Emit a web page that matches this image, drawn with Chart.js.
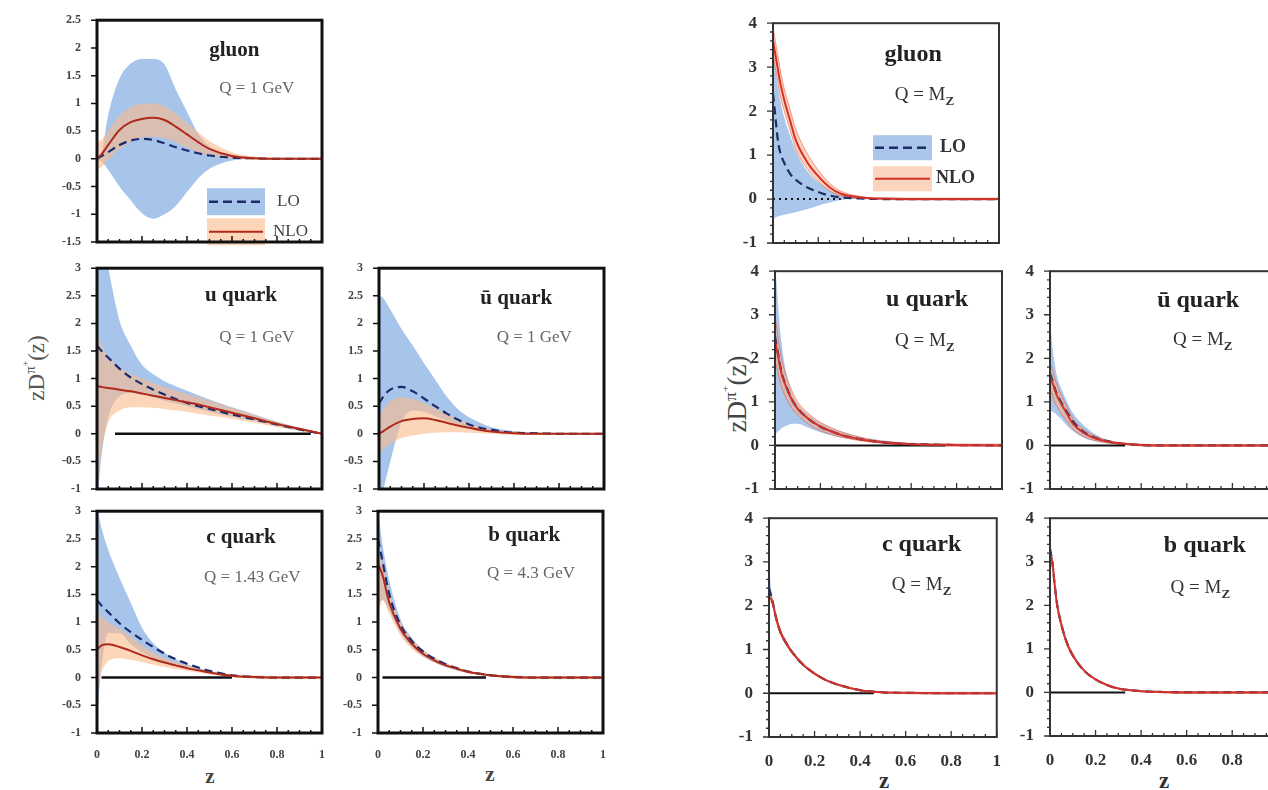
<!DOCTYPE html>
<html>
<head>
<meta charset="utf-8">
<script src="https://cdn.jsdelivr.net/npm/chart.js"></script>
<style>
  html, body { margin: 0; padding: 0; background: #fff; }
  body { position: relative; width: 1268px; height: 790px; overflow: hidden; font-family: 'Liberation Serif', serif; }
  canvas { position: absolute; }
  .lbl { position: absolute; color: #333; white-space: nowrap; transform: translate(-50%, -50%); }
  .ylab { transform: translate(-50%, -50%) rotate(-90deg); }
  sup { font-size: 0.65em; }
</style>
</head>
<body>

<div class="lbl ylab" style="left:35px;top:368px;font-size:23px;color:#555">zD<sup>π<sup>+</sup></sup>(z)</div>
<div class="lbl ylab" style="left:736px;top:394px;font-size:27px;color:#444">zD<sup>π<sup>+</sup></sup>(z)</div>
<div class="lbl" style="left:210px;top:776px;font-size:21px;font-weight:bold;color:#444">z</div>
<div class="lbl" style="left:490px;top:774px;font-size:21px;font-weight:bold;color:#444">z</div>
<div class="lbl" style="left:884px;top:781px;font-size:23px;font-weight:bold;color:#333">z</div>
<div class="lbl" style="left:1164px;top:781px;font-size:23px;font-weight:bold;color:#333">z</div>

<script>
// z grids
const zL = [0, 0.02, 0.05, 0.1, 0.15, 0.2, 0.25, 0.3, 0.35, 0.4, 0.45, 0.5, 0.6, 0.7, 0.8, 0.9, 1];
const zR = [0, 0.01, 0.02, 0.03, 0.05, 0.075, 0.1, 0.15, 0.2, 0.25, 0.3, 0.4, 0.5, 0.6, 0.8, 1];

// tick labels
const zTicks = [0, 0.2, 0.4, 0.6, 0.8, 1];
const yTicksGluonL = [-1.5, -1, -0.5, 0, 0.5, 1, 1.5, 2, 2.5];
const yTicksL = [-1, -0.5, 0, 0.5, 1, 1.5, 2, 2.5, 3];
const yTicksR = [-1, 0, 1, 2, 3, 4];

// ---- Q = 1 GeV (left block) ----
const gL_loUp  = [0, 0.1, 0.8, 1.45, 1.72, 1.8, 1.8, 1.7, 1.25, 0.85, 0.45, 0.22, 0.05, 0.01, 0, 0, 0];
const gL_loLo  = [0, -0.05, -0.2, -0.5, -0.75, -0.98, -1.08, -1.0, -0.85, -0.6, -0.35, -0.18, -0.03, 0, 0, 0, 0];
const gL_loC   = [0, 0.05, 0.12, 0.25, 0.33, 0.36, 0.34, 0.28, 0.21, 0.15, 0.1, 0.06, 0.02, 0.01, 0, 0, 0];
const gL_nloUp = [0.3, 0.35, 0.5, 0.78, 0.93, 1.0, 1.0, 0.95, 0.82, 0.65, 0.48, 0.32, 0.12, 0.04, 0.02, 0.02, 0.02];
const gL_nloLo = [-0.2, -0.15, -0.02, 0.18, 0.3, 0.38, 0.4, 0.37, 0.3, 0.2, 0.12, 0.06, 0.0, -0.02, -0.02, -0.02, -0.02];
const gL_nloC  = [0, 0.08, 0.25, 0.52, 0.66, 0.72, 0.74, 0.7, 0.58, 0.44, 0.3, 0.18, 0.05, 0.01, 0, 0, 0];

const uL_loUp  = [4.0, 3.6, 3.0, 2.05, 1.6, 1.25, 1.08, 0.95, 0.86, 0.78, 0.7, 0.62, 0.48, 0.35, 0.22, 0.11, 0];
const uL_loLo  = [-1.3, -0.4, 0.3, 0.68, 0.74, 0.72, 0.66, 0.6, 0.55, 0.5, 0.45, 0.4, 0.31, 0.23, 0.14, 0.06, 0];
const uL_loC   = [1.6, 1.5, 1.38, 1.18, 1.02, 0.9, 0.8, 0.71, 0.63, 0.56, 0.5, 0.45, 0.35, 0.26, 0.17, 0.08, 0];
const uL_nloUp = [1.8, 1.6, 1.4, 1.2, 1.08, 1.0, 0.92, 0.85, 0.78, 0.72, 0.66, 0.6, 0.47, 0.34, 0.22, 0.11, 0.02];
const uL_nloLo = [-1.0, -0.3, 0.2, 0.42, 0.48, 0.48, 0.47, 0.45, 0.42, 0.4, 0.36, 0.33, 0.27, 0.2, 0.12, 0.06, -0.02];
const uL_nloC  = [0.87, 0.85, 0.83, 0.8, 0.77, 0.73, 0.69, 0.65, 0.61, 0.57, 0.53, 0.48, 0.38, 0.28, 0.18, 0.09, 0];
const uL_zero  = [0.08, 0.95];

const ubL_loUp  = [2.5, 2.45, 2.25, 1.9, 1.6, 1.28, 0.98, 0.68, 0.45, 0.3, 0.2, 0.12, 0.05, 0.02, 0, 0, 0];
const ubL_loLo  = [-1.3, -1.0, -0.5, 0.2, 0.42, 0.4, 0.32, 0.24, 0.17, 0.12, 0.08, 0.05, 0.02, 0, 0, 0, 0];
const ubL_loC   = [0.55, 0.68, 0.8, 0.85, 0.77, 0.64, 0.5, 0.37, 0.26, 0.17, 0.11, 0.07, 0.02, 0.01, 0, 0, 0];
const ubL_nloUp = [0.3, 0.45, 0.58, 0.66, 0.63, 0.56, 0.46, 0.36, 0.27, 0.19, 0.13, 0.08, 0.04, 0.03, 0.02, 0.02, 0.02];
const ubL_nloLo = [-0.35, -0.28, -0.18, -0.08, -0.03, 0.0, 0.02, 0.03, 0.03, 0.02, 0.01, 0.0, -0.02, -0.02, -0.02, -0.02, -0.02];
const ubL_nloC  = [0.0, 0.05, 0.13, 0.23, 0.27, 0.28, 0.25, 0.2, 0.15, 0.11, 0.07, 0.04, 0.01, 0, 0, 0, 0];

const cL_loUp  = [3.1, 2.7, 2.3, 1.8, 1.35, 0.9, 0.62, 0.45, 0.33, 0.24, 0.17, 0.12, 0.05, 0.02, 0.01, 0, 0];
const cL_loLo  = [-0.7, 0.2, 0.8, 0.8, 0.6, 0.45, 0.35, 0.27, 0.2, 0.15, 0.11, 0.08, 0.03, 0.01, 0, 0, 0];
const cL_loC   = [1.4, 1.3, 1.18, 0.98, 0.82, 0.68, 0.55, 0.43, 0.33, 0.25, 0.18, 0.12, 0.04, 0.01, 0, 0, 0];
const cL_nloUp = [1.2, 1.1, 1.0, 0.88, 0.74, 0.58, 0.45, 0.35, 0.28, 0.22, 0.16, 0.12, 0.06, 0.04, 0.03, 0.03, 0.03];
const cL_nloLo = [-0.2, 0.1, 0.3, 0.35, 0.32, 0.28, 0.23, 0.19, 0.15, 0.12, 0.09, 0.06, 0.01, -0.02, -0.03, -0.03, -0.03];
const cL_nloC  = [0.5, 0.58, 0.6, 0.55, 0.48, 0.4, 0.33, 0.27, 0.22, 0.17, 0.13, 0.09, 0.03, 0.01, 0, 0, 0];
const cL_zero  = [0.02, 0.6];

const bL_loUp  = [3.0, 2.4, 1.75, 1.05, 0.72, 0.5, 0.36, 0.26, 0.18, 0.12, 0.08, 0.05, 0.02, 0.01, 0, 0, 0];
const bL_loLo  = [1.3, 1.4, 1.2, 0.8, 0.55, 0.38, 0.27, 0.19, 0.13, 0.08, 0.05, 0.03, 0.01, 0, 0, 0, 0];
const bL_loC   = [2.5, 2.1, 1.5, 0.95, 0.66, 0.47, 0.34, 0.24, 0.17, 0.11, 0.07, 0.04, 0.01, 0, 0, 0, 0];
const bL_nloUp = [2.3, 2.05, 1.55, 1.0, 0.7, 0.5, 0.37, 0.27, 0.19, 0.13, 0.08, 0.06, 0.04, 0.03, 0.03, 0.03, 0.03];
const bL_nloLo = [1.1, 1.4, 1.15, 0.76, 0.52, 0.37, 0.27, 0.19, 0.13, 0.08, 0.05, 0.02, -0.02, -0.03, -0.03, -0.03, -0.03];
const bL_nloC  = [2.05, 1.85, 1.35, 0.88, 0.61, 0.43, 0.31, 0.22, 0.16, 0.1, 0.07, 0.04, 0.01, 0, 0, 0, 0];
const bL_zero  = [0.02, 0.48];

// ---- Q = M_Z (right block) ----
const gR_loUp  = [3.7, 3.0, 2.6, 2.3, 1.85, 1.45, 1.1, 0.65, 0.38, 0.2, 0.08, 0.02, 0, 0, 0, 0];
const gR_loLo  = [-0.45, -0.42, -0.4, -0.38, -0.36, -0.33, -0.3, -0.23, -0.15, -0.08, -0.02, 0, 0, 0, 0, 0];
const gR_loC   = [2.4, 1.9, 1.4, 1.1, 0.82, 0.58, 0.44, 0.27, 0.16, 0.08, 0.04, 0.01, 0, 0, 0, 0];
const gR_nloUp = [3.9, 3.6, 3.3, 3.0, 2.5, 2.05, 1.6, 1.05, 0.66, 0.36, 0.18, 0.05, 0.02, 0.02, 0.02, 0.02];
const gR_nloLo = [3.3, 3.0, 2.7, 2.4, 2.0, 1.58, 1.15, 0.7, 0.4, 0.19, 0.07, 0.01, -0.01, -0.02, -0.02, -0.02];
const gR_nloC  = [3.6, 3.3, 3.0, 2.7, 2.25, 1.8, 1.35, 0.85, 0.52, 0.27, 0.12, 0.03, 0.01, 0, 0, 0];
const gR_zero  = [0, 0.3];

const uR_loUp  = [4.2, 3.5, 2.8, 2.3, 1.65, 1.2, 0.95, 0.7, 0.52, 0.4, 0.3, 0.17, 0.1, 0.05, 0.01, 0];
const uR_loLo  = [0.25, 0.3, 0.35, 0.4, 0.45, 0.5, 0.5, 0.4, 0.3, 0.23, 0.17, 0.1, 0.05, 0.02, 0, 0];
const uR_loC   = [2.5, 2.2, 1.9, 1.65, 1.35, 1.05, 0.85, 0.6, 0.43, 0.32, 0.23, 0.12, 0.06, 0.03, 0.01, 0];
const uR_nloUp = [3.0, 2.6, 2.25, 1.95, 1.6, 1.25, 1.0, 0.72, 0.53, 0.4, 0.3, 0.16, 0.08, 0.05, 0.03, 0.03];
const uR_nloLo = [1.9, 1.75, 1.5, 1.32, 1.08, 0.85, 0.7, 0.48, 0.34, 0.25, 0.18, 0.09, 0.04, 0.01, -0.02, -0.02];
const uR_nloC  = [2.4, 2.15, 1.87, 1.63, 1.33, 1.04, 0.84, 0.6, 0.43, 0.32, 0.23, 0.12, 0.06, 0.03, 0.01, 0];
const uR_zero  = [0, 0.75];

const ubR_loUp  = [2.9, 2.3, 1.9, 1.6, 1.3, 1.0, 0.75, 0.45, 0.25, 0.13, 0.06, 0.02, 0, 0, 0, 0];
const ubR_loLo  = [0.8, 0.78, 0.75, 0.7, 0.6, 0.45, 0.33, 0.17, 0.09, 0.05, 0.03, 0, 0, 0, 0, 0];
const ubR_loC   = [1.65, 1.5, 1.32, 1.18, 0.98, 0.76, 0.55, 0.3, 0.17, 0.1, 0.05, 0.01, 0, 0, 0, 0];
const ubR_nloUp = [1.9, 1.75, 1.55, 1.4, 1.15, 0.88, 0.62, 0.36, 0.21, 0.12, 0.07, 0.03, 0.02, 0.02, 0.02, 0.02];
const ubR_nloLo = [1.3, 1.15, 1.0, 0.9, 0.72, 0.55, 0.38, 0.2, 0.11, 0.06, 0.03, -0.01, -0.02, -0.02, -0.02, -0.02];
const ubR_nloC  = [1.6, 1.45, 1.3, 1.15, 0.95, 0.72, 0.5, 0.28, 0.16, 0.09, 0.05, 0.01, 0, 0, 0, 0];
const ubR_zero  = [0, 0.33];

const cR_loUp  = [3.0, 2.35, 2.08, 1.82, 1.46, 1.2, 0.99, 0.68, 0.47, 0.32, 0.21, 0.08, 0.03, 0.01, 0, 0];
const cR_loLo  = [2.2, 2.1, 1.93, 1.68, 1.35, 1.1, 0.91, 0.62, 0.43, 0.28, 0.19, 0.06, 0.02, 0.01, 0, 0];
const cR_loC   = [2.4, 2.22, 2.0, 1.75, 1.4, 1.15, 0.95, 0.65, 0.45, 0.3, 0.2, 0.07, 0.02, 0.01, 0, 0];
const cR_nloUp = [2.3, 2.22, 2.04, 1.8, 1.45, 1.19, 0.98, 0.67, 0.47, 0.31, 0.21, 0.08, 0.03, 0.02, 0.02, 0.02];
const cR_nloLo = [2.1, 2.08, 1.92, 1.68, 1.35, 1.11, 0.92, 0.63, 0.43, 0.29, 0.19, 0.06, 0.01, -0.01, -0.02, -0.02];
const cR_nloC  = [2.2, 2.15, 1.98, 1.74, 1.4, 1.15, 0.95, 0.65, 0.45, 0.3, 0.2, 0.07, 0.02, 0.01, 0, 0];
const cR_zero  = [0, 0.46];

const bR_loUp  = [3.5, 3.1, 2.58, 2.12, 1.6, 1.16, 0.88, 0.52, 0.31, 0.18, 0.1, 0.03, 0.01, 0, 0, 0];
const bR_loLo  = [3.0, 2.9, 2.42, 1.98, 1.5, 1.08, 0.82, 0.48, 0.29, 0.16, 0.08, 0.03, 0.01, 0, 0, 0];
const bR_loC   = [3.3, 3.0, 2.5, 2.06, 1.56, 1.13, 0.85, 0.5, 0.3, 0.17, 0.09, 0.03, 0.01, 0, 0, 0];
const bR_nloUp = [3.3, 3.08, 2.57, 2.1, 1.6, 1.16, 0.88, 0.52, 0.31, 0.18, 0.1, 0.04, 0.02, 0.02, 0.02, 0.02];
const bR_nloLo = [3.1, 2.92, 2.43, 2.0, 1.5, 1.08, 0.82, 0.48, 0.29, 0.16, 0.08, 0.02, -0.01, -0.02, -0.02, -0.02];
const bR_nloC  = [3.2, 3.0, 2.5, 2.05, 1.55, 1.12, 0.85, 0.5, 0.3, 0.17, 0.09, 0.03, 0.01, 0, 0, 0];
const bR_zero  = [0, 0.33];

// group styles
const styleL = {
  yw: 48, xh: 32, pad: 10, frame: '#111', frameW: 3, tickW: 1.5, major: 6, minor: 3,
  tickFont: 12, tickColor: '#444', yStep: 0.5, yMinor: null, titleSize: 21, qSize: 17, qColor: '#666',
  blue: 'rgba(125,168,225,0.68)', peach: 'rgba(251,186,140,0.6)', peachEdge: 'rgba(0,0,0,0)',
  navy: '#1d2a6e', red: '#b02a1c', zeroW: 2.5, legFont: 'normal 17px', legColor: '#444'
};
const styleR = {
  yw: 48, xh: 36, pad: 10, frame: '#333', frameW: 2, tickW: 1.3, major: 6, minor: 3,
  tickFont: 17, tickColor: '#333', yStep: 1, yMinor: 0.2, titleSize: 24, qSize: 19, qColor: '#333',
  blue: 'rgba(125,168,225,0.65)', peach: 'rgba(251,176,135,0.55)', peachEdge: 'rgba(225,80,60,0.55)',
  navy: '#1f2c66', red: '#d3322a', zeroW: 2, legFont: 'bold 18px', legColor: '#333'
};

const panels = [
  { box: [97, 15, 225, 227], st: styleL, yr: [-1.5, 2.5], yt: yTicksGluonL, z: zL,
    s: [gL_loUp, gL_loLo, gL_nloUp, gL_nloLo, gL_loC, gL_nloC], zero: null, xlab: false,
    title: 'gluon', tpos: [0.61, 30], q: 'Q = 1 GeV', qpos: [0.71, 68],
    legend: { x: 110, w: 58, y1: 168, y2: 198, h: 27, tx: 180 } },
  { box: [97, 263, 225, 226], st: styleL, yr: [-1, 3], yt: yTicksL, z: zL,
    s: [uL_loUp, uL_loLo, uL_nloUp, uL_nloLo, uL_loC, uL_nloC], zero: uL_zero, xlab: false,
    title: 'u quark', tpos: [0.64, 27], q: 'Q = 1 GeV', qpos: [0.71, 69] },
  { box: [379, 263, 225, 226], st: styleL, yr: [-1, 3], yt: yTicksL, z: zL,
    s: [ubL_loUp, ubL_loLo, ubL_nloUp, ubL_nloLo, ubL_loC, ubL_nloC], zero: null, xlab: false,
    title: 'ū quark', tpos: [0.61, 30], q: 'Q = 1 GeV', qpos: [0.69, 69] },
  { box: [97, 506, 225, 227], st: styleL, yr: [-1, 3], yt: yTicksL, z: zL,
    s: [cL_loUp, cL_loLo, cL_nloUp, cL_nloLo, cL_loC, cL_nloC], zero: cL_zero, xlab: true,
    title: 'c quark', tpos: [0.64, 26], q: 'Q = 1.43 GeV', qpos: [0.69, 66] },
  { box: [378, 506, 225, 227], st: styleL, yr: [-1, 3], yt: yTicksL, z: zL,
    s: [bL_loUp, bL_loLo, bL_nloUp, bL_nloLo, bL_loC, bL_nloC], zero: bL_zero, xlab: true,
    title: 'b quark', tpos: [0.65, 24], q: 'Q = 4.3 GeV', qpos: [0.68, 62] },

  { box: [773, 15, 226, 228], st: styleR, yr: [-1, 4], yt: yTicksR, z: zR,
    s: [gR_loUp, gR_loLo, gR_nloUp, gR_nloLo, gR_loC, gR_nloC], zero: gR_zero, dotted: true, xlab: false,
    title: 'gluon', tpos: [0.62, 32], q: 'Q = M', sub: 'Z', qpos: [0.67, 72],
    legend: { x: 100, w: 59, y1: 112, y2: 143, h: 25, tx: 167 } },
  { box: [775, 263, 227, 226], st: styleR, yr: [-1, 4], yt: yTicksR, z: zR,
    s: [uR_loUp, uR_loLo, uR_nloUp, uR_nloLo, uR_loC, uR_nloC], zero: uR_zero, xlab: false,
    title: 'u quark', tpos: [0.67, 29], q: 'Q = M', sub: 'Z', qpos: [0.66, 70] },
  { box: [1050, 263, 228, 226], st: styleR, yr: [-1, 4], yt: yTicksR, z: zR,
    s: [ubR_loUp, ubR_loLo, ubR_nloUp, ubR_nloLo, ubR_loC, ubR_nloC], zero: ubR_zero, xlab: false,
    title: 'ū quark', tpos: [0.65, 30], q: 'Q = M', sub: 'Z', qpos: [0.67, 69] },
  { box: [769, 510, 228, 227], st: styleR, yr: [-1, 4], yt: yTicksR, z: zR,
    s: [cR_loUp, cR_loLo, cR_nloUp, cR_nloLo, cR_loC, cR_nloC], zero: cR_zero, xlab: true,
    title: 'c quark', tpos: [0.67, 27], q: 'Q = M', sub: 'Z', qpos: [0.67, 67] },
  { box: [1050, 510, 228, 226], st: styleR, yr: [-1, 4], yt: yTicksR, z: zR,
    s: [bR_loUp, bR_loLo, bR_nloUp, bR_nloLo, bR_loC, bR_nloC], zero: bR_zero, xlab: true,
    title: 'b quark', tpos: [0.68, 28], q: 'Q = M', sub: 'Z', qpos: [0.66, 70] }
];

Chart.defaults.font.family = "'Liberation Serif', serif";

function pts(z, ys) { return z.map((v, i) => ({ x: v, y: ys[i] })); }

function decoPlugin(p) {
  const st = p.st;
  return {
    id: 'deco',
    afterDraw(chart) {
      const { ctx, chartArea: a, scales: { x, y } } = chart;
      ctx.save();

      // legend (gluon panels only)
      if (p.legend) {
        const L = p.legend;
        const lx = a.left + L.x;
        ctx.fillStyle = st.blue;
        ctx.fillRect(lx, a.top + L.y1, L.w, L.h);
        ctx.fillStyle = st.peach;
        ctx.fillRect(lx, a.top + L.y2, L.w, L.h);
        ctx.lineWidth = 2.5;
        ctx.strokeStyle = st.navy;
        ctx.setLineDash([9, 5]);
        ctx.beginPath();
        ctx.moveTo(lx + 2, a.top + L.y1 + L.h / 2);
        ctx.lineTo(lx + L.w - 2, a.top + L.y1 + L.h / 2);
        ctx.stroke();
        ctx.setLineDash([]);
        ctx.lineWidth = 2;
        ctx.strokeStyle = st.red;
        ctx.beginPath();
        ctx.moveTo(lx + 2, a.top + L.y2 + L.h / 2);
        ctx.lineTo(lx + L.w - 2, a.top + L.y2 + L.h / 2);
        ctx.stroke();
        ctx.fillStyle = st.legColor;
        ctx.font = st.legFont + " 'Liberation Serif', serif";
        ctx.textAlign = 'left';
        ctx.textBaseline = 'middle';
        ctx.fillText('LO', a.left + L.tx, a.top + L.y1 + L.h / 2);
        ctx.fillText('NLO', a.left + L.tx - 4, a.top + L.y2 + L.h / 2);
      }

      // panel title
      ctx.fillStyle = '#222';
      ctx.font = "bold " + st.titleSize + "px 'Liberation Serif', serif";
      ctx.textAlign = 'center';
      ctx.textBaseline = 'middle';
      ctx.fillText(p.title, a.left + p.tpos[0] * a.width, a.top + p.tpos[1]);

      // scale label
      ctx.fillStyle = st.qColor;
      ctx.font = st.qSize + "px 'Liberation Serif', serif";
      const qx = a.left + p.qpos[0] * a.width, qy = a.top + p.qpos[1];
      if (p.sub) {
        const w1 = ctx.measureText(p.q).width;
        ctx.font = "bold " + Math.round(st.qSize * 0.7) + "px 'Liberation Serif', serif";
        const w2 = ctx.measureText(p.sub).width;
        const x0 = qx - (w1 + w2) / 2;
        ctx.textAlign = 'left';
        ctx.fillText(p.sub, x0 + w1, qy + 6);
        ctx.font = st.qSize + "px 'Liberation Serif', serif";
        ctx.fillText(p.q, x0, qy);
      } else {
        ctx.fillText(p.q, qx, qy);
      }

      // frame
      ctx.strokeStyle = st.frame;
      ctx.lineWidth = st.frameW;
      ctx.strokeRect(a.left, a.top, a.width, a.height);

      // ticks: x inward on bottom, y outward on left
      ctx.lineWidth = st.tickW;
      ctx.beginPath();
      for (let i = 0; i <= 20; i++) {
        const px = x.getPixelForValue(i * 0.05);
        const len = i % 4 === 0 ? st.major : st.minor;
        ctx.moveTo(px, a.bottom);
        ctx.lineTo(px, a.bottom - len);
      }
      p.yt.forEach(v => {
        const py = y.getPixelForValue(v);
        ctx.moveTo(a.left, py);
        ctx.lineTo(a.left - st.major, py);
      });
      if (st.yMinor) {
        const n = Math.round((p.yr[1] - p.yr[0]) / st.yMinor);
        for (let i = 0; i <= n; i++) {
          const py = y.getPixelForValue(p.yr[0] + i * st.yMinor);
          ctx.moveTo(a.left + 1, py);
          ctx.lineTo(a.left - st.minor, py);
        }
      }
      ctx.stroke();
      ctx.restore();
    }
  };
}

panels.forEach(p => {
  const st = p.st;
  const [bx, by, bw, bh] = p.box;
  const cv = document.createElement('canvas');
  const W = bw + st.yw + st.pad, H = bh + st.pad + st.xh;
  cv.width = W; cv.height = H;
  cv.style.left = (bx - st.yw) + 'px';
  cv.style.top = (by - st.pad) + 'px';
  cv.style.width = W + 'px';
  cv.style.height = H + 'px';
  document.body.appendChild(cv);

  const ds = [
    { data: pts(p.z, p.s[0]), borderWidth: 0, fill: false, order: 10 },
    { data: pts(p.z, p.s[1]), borderWidth: 0, fill: '-1', backgroundColor: st.blue, order: 10 },
    { data: pts(p.z, p.s[2]), borderWidth: 1, borderColor: st.peachEdge, fill: false, order: 9 },
    { data: pts(p.z, p.s[3]), borderWidth: 1, borderColor: st.peachEdge, fill: '-1', backgroundColor: st.peach, order: 9 },
    { data: pts(p.z, p.s[4]), borderWidth: 2.2, borderColor: st.navy, borderDash: [8, 5], fill: false, order: 2 },
    { data: pts(p.z, p.s[5]), borderWidth: 2, borderColor: st.red, fill: false, order: 1 }
  ];
  if (p.zero) {
    ds.push({
      data: p.zero.map(v => ({ x: v, y: 0 })), borderWidth: st.zeroW, borderColor: '#111',
      borderDash: p.dotted ? [2, 4] : [], fill: false, order: 5
    });
  }

  new Chart(cv, {
    type: 'line',
    data: { datasets: ds },
    options: {
      responsive: false,
      animation: false,
      events: [],
      layout: { padding: { top: st.pad, right: st.pad, left: 0, bottom: 0 } },
      elements: { point: { radius: 0 }, line: { cubicInterpolationMode: 'monotone' } },
      plugins: { legend: { display: false }, tooltip: { enabled: false } },
      scales: {
        x: {
          type: 'linear', min: 0, max: 1,
          grid: { display: false }, border: { display: false },
          afterBuildTicks: s => { s.ticks = zTicks.map(v => ({ value: v })); },
          afterFit: s => { s.height = st.xh; },
          ticks: {
            display: p.xlab, autoSkip: false, maxRotation: 0,
            padding: st === styleL ? 7 : 6,
            color: st.tickColor, font: { size: st.tickFont, weight: 'bold' },
            callback: v => String(+v.toFixed(2))
          }
        },
        y: {
          type: 'linear', min: p.yr[0], max: p.yr[1],
          grid: { display: false }, border: { display: false },
          afterBuildTicks: s => { s.ticks = p.yt.map(v => ({ value: v })); },
          afterFit: s => { s.width = st.yw; },
          ticks: {
            padding: 8, color: st.tickColor, font: { size: st.tickFont, weight: 'bold' },
            callback: v => String(+v.toFixed(2))
          }
        }
      }
    },
    plugins: [decoPlugin(p)]
  });
});
</script>
</body>
</html>
